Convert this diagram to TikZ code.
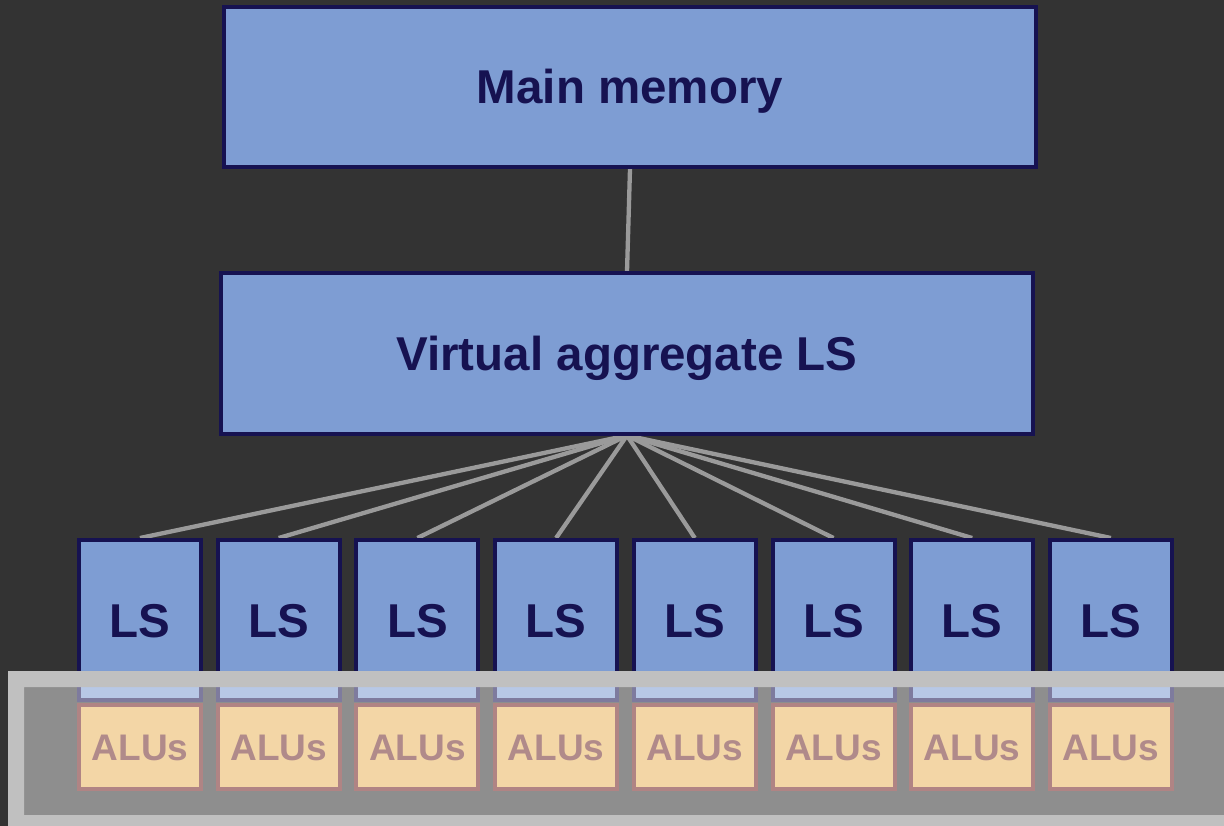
\documentclass[tikz,border=0pt]{standalone}
\usepackage{fontspec}
\setmainfont{Liberation Sans}
\definecolor{bg}{HTML}{333333}
\definecolor{boxblue}{HTML}{7E9DD3}
\definecolor{navy}{HTML}{161251}
\definecolor{wiregrey}{HTML}{9A9A9A}
\definecolor{alufill}{HTML}{F3D6A6}
\definecolor{aluedge}{HTML}{B08484}
\definecolor{alutext}{HTML}{B08A8A}
\definecolor{framegrey}{HTML}{C0C0C0}
\pgfdeclarelayer{canvas}
\pgfdeclarelayer{wires}
\pgfsetlayers{canvas,wires,main}
\begin{document}
\begin{tikzpicture}[x=1pt,y=-1pt,
  bigbox/.style={draw=navy, line width=4pt, fill=boxblue, text=navy,
    font=\bfseries\fontsize{47.5}{50}\selectfont, inner sep=0pt,
    text height=34pt, text depth=0pt,
    minimum width=812pt, minimum height=160pt},
  lsbox/.style={bigbox, minimum width=122pt, minimum height=160pt},
  alubox/.style={draw=aluedge, line width=4pt, fill=alufill, text=alutext,
    font=\bfseries\fontsize{37}{40}\selectfont, inner sep=0pt,
    text height=26.5pt, text depth=0pt,
    minimum width=122pt, minimum height=84pt},
  wire/.style={draw=wiregrey, line width=4.3pt}]
  \useasboundingbox (0,0) rectangle (1224,826);
  \clip (0,0) rectangle (1224,826);
  \begin{pgfonlayer}{canvas}
    \fill[bg] (0,0) rectangle (1224,826);
  \end{pgfonlayer}

  % memory hierarchy boxes
  \node[bigbox] (mem) at (630,87) {Main memory};
  \node[bigbox] (virt) at (627,353.5) {Virtual aggregate LS};
  \foreach \i in {1,...,8} {
    \node[lsbox] (ls\i) at ({140+138.7*(\i-1)},620) {LS};
  }

  % connectors, kept under the boxes
  \begin{pgfonlayer}{wires}
    \draw[wire] (mem.south) -- (virt.north);
    \foreach \i in {1,...,8} {
      \draw[wire] (virt.south) -- (ls\i.north);
    }
  \end{pgfonlayer}

  % translucent processing panel with its light frame
  \fill[white, fill opacity=0.446] (24,687) rectangle (1260,815);
  \fill[framegrey, even odd rule] (8,671) rectangle (1270,850)
                                  (24,687) rectangle (1260,815);

  % ALU blocks
  \foreach \i in {1,...,8} {
    \node[alubox] (alu\i) at ({140+138.7*(\i-1)},747) {ALUs};
  }
\end{tikzpicture}
\end{document}
